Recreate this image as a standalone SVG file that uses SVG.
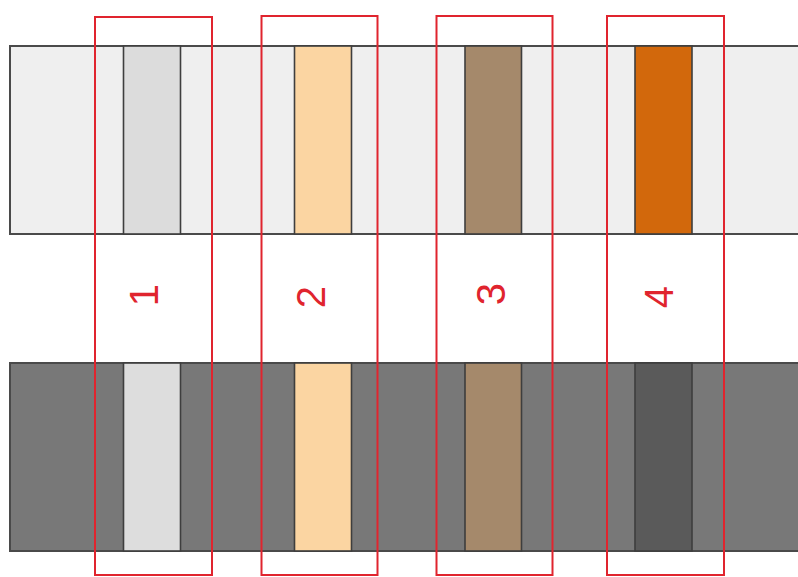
<svg xmlns="http://www.w3.org/2000/svg" width="798" height="577" viewBox="0 0 798 577">
<style>
.strip{stroke:#4a4a4a;stroke-width:2}
.band{stroke:#3e3e3e;stroke-width:1.6}
.box{fill:none;stroke:#e0242e;stroke-width:2}
.lbl{font-family:"Liberation Sans",Arial,sans-serif;font-size:40px;fill:#e0242e;text-anchor:middle}
</style>
<rect width="798" height="577" fill="#ffffff"/>
<g id="top-strip">
<rect class="strip" x="10" y="46" width="800" height="188" fill="#efefef"/>
<rect class="band" x="123.5" y="46" width="57" height="188" fill="#dcdcdc"/>
<rect class="band" x="294.5" y="46" width="57" height="188" fill="#fbd5a2"/>
<rect class="band" x="465" y="46" width="56.5" height="188" fill="#a5896b"/>
<rect class="band" x="635" y="46" width="57" height="188" fill="#d2680c"/>
</g>
<g id="bottom-strip">
<rect class="strip" x="10" y="363" width="800" height="188" fill="#787878"/>
<rect class="band" x="123.5" y="363" width="57" height="188" fill="#dddddd"/>
<rect class="band" x="294.5" y="363" width="57" height="188" fill="#fbd5a2"/>
<rect class="band" x="465" y="363" width="56.5" height="188" fill="#a5896b"/>
<rect class="band" x="635" y="363" width="57" height="188" fill="#5a5a5a"/>
</g>
<g id="box1"><rect class="box" x="95" y="17" width="117" height="558"/>
<text class="lbl" x="144" y="295" dy="14.3" transform="rotate(-90 144 295)">1</text></g>
<g id="box2"><rect class="box" x="261.5" y="16" width="116" height="559"/>
<text class="lbl" x="311" y="297" dy="14.3" transform="rotate(-90 311 297)">2</text></g>
<g id="box3"><rect class="box" x="436.5" y="16" width="116" height="559"/>
<text class="lbl" x="491" y="294" dy="14.3" transform="rotate(-90 491 294)">3</text></g>
<g id="box4"><rect class="box" x="607" y="16" width="117" height="559"/>
<text class="lbl" x="659" y="297" dy="14.3" transform="rotate(-90 659 297)">4</text></g>
</svg>
